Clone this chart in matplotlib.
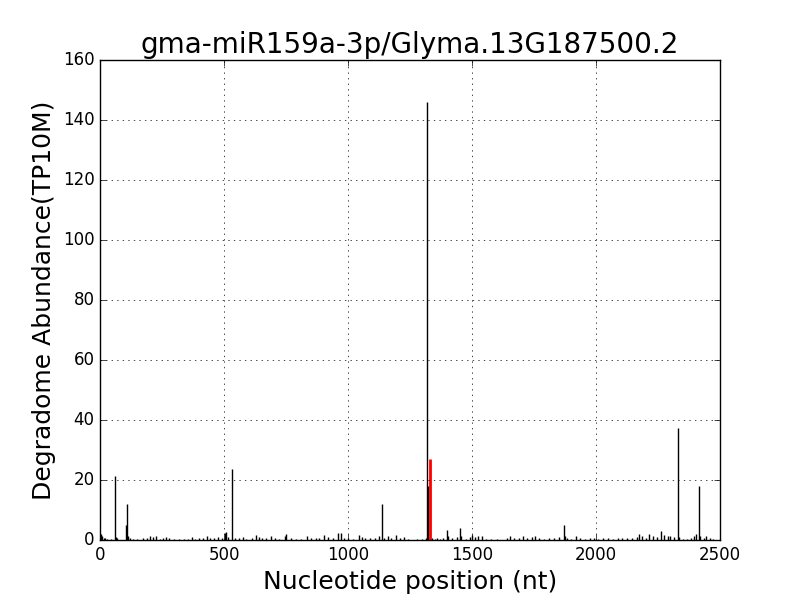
import matplotlib
matplotlib.use('Agg')
import matplotlib.pyplot as plt

plt.style.use('classic')
plt.rcParams['figure.facecolor'] = 'white'
plt.rcParams['savefig.facecolor'] = 'white'

title = 'gma-miR159a-3p/Glyma.13G187500.2'

# degradome tags (position, abundance)
positions = [3, 8, 15, 22, 30, 45, 60, 63, 70, 106, 109, 112, 120, 135, 150, 175, 190, 200, 212, 225,
             240, 255, 265, 280, 300, 320, 340, 355, 370, 385, 400, 415, 430, 445, 460, 475, 490, 505,
             510, 515, 533, 545, 560, 575, 590, 612, 630, 640, 655, 670, 690, 705, 720, 745, 752, 770,
             790, 810, 835, 850, 870, 885, 905, 920, 940, 960, 970, 985, 1000, 1020, 1045, 1055, 1070,
             1090, 1110, 1125, 1137, 1145, 1160, 1175, 1195, 1210, 1225, 1240, 1280, 1300, 1315, 1319,
             1321, 1340, 1350, 1360, 1370, 1385, 1398, 1402, 1420, 1440, 1452, 1455, 1475, 1490, 1500,
             1512, 1525, 1540, 1555, 1575, 1600, 1640, 1655, 1670, 1690, 1705, 1720, 1740, 1755, 1770,
             1790, 1810, 1830, 1850, 1870, 1875, 1885, 1900, 1920, 1935, 1955, 1975, 1990, 2010, 2030,
             2050, 2070, 2090, 2105, 2125, 2145, 2165, 2175, 2185, 2200, 2215, 2230, 2245, 2262, 2275,
             2290, 2300, 2315, 2331, 2335, 2350, 2365, 2385, 2395, 2405, 2415, 2420, 2435, 2445, 2460, 2470]
abundance = [2.0, 1.2, 0.8, 0.7, 0.5, 0.4, 21.5, 1.0, 0.6, 5.0, 12.0, 1.5, 0.6, 0.4, 0.5, 0.8, 0.6, 1.2,
             1.0, 1.2, 0.5, 0.8, 1.0, 0.6, 0.4, 0.5, 0.4, 0.5, 1.0, 0.5, 0.6, 0.7, 1.2, 0.8, 0.7, 0.9, 0.7,
             2.2, 2.8, 1.0, 23.7, 0.8, 0.6, 1.0, 0.5, 0.8, 1.8, 1.0, 0.8, 0.7, 1.5, 0.8, 0.5, 1.2, 2.0,
             0.6, 0.5, 0.4, 1.5, 0.8, 0.6, 0.8, 1.8, 1.0, 0.8, 2.5, 2.2, 0.6, 0.8, 0.5, 1.8, 1.0, 0.7, 0.6,
             0.8, 1.5, 12.0, 0.8, 1.3, 0.8, 1.7, 0.8, 1.0, 0.5, 0.4, 0.5, 0.8, 146.0, 18.0, 0.6, 0.5, 0.6,
             0.5, 0.7, 3.3, 1.5, 0.8, 1.0, 4.0, 1.2, 0.5, 1.0, 1.8, 1.0, 1.2, 1.2, 0.5, 0.3, 0.3, 0.8, 1.2,
             0.6, 0.8, 1.2, 0.6, 1.0, 1.5, 0.6, 0.5, 0.7, 0.8, 1.0, 5.0, 1.5, 0.8, 0.5, 1.5, 0.8, 0.5, 0.6,
             0.8, 0.5, 0.6, 0.7, 0.5, 0.8, 0.6, 0.8, 0.7, 1.0, 2.0, 1.2, 0.8, 2.0, 1.5, 1.0, 3.0, 1.8, 1.5,
             1.2, 1.0, 37.5, 1.0, 0.5, 0.5, 0.8, 1.3, 2.0, 18.0, 1.5, 0.8, 1.5, 0.8, 0.5]

# cleavage site
site_pos = [1331]
site_val = [27.0]

fig = plt.figure(figsize=(8, 6), dpi=100)
ax = fig.add_subplot(111)
ax.vlines(positions, 0, abundance, colors='k', linewidth=1)
ax.vlines(site_pos, 0, site_val, colors='r', linewidth=2)

ax.set_xlim(0, 2500)
ax.set_ylim(0, 160)
ax.grid(True)
ax.set_title(title, fontsize=20)
ax.set_xlabel('Nucleotide position (nt)', fontsize=18)
ax.set_ylabel('Degradome Abundance(TP10M)', fontsize=18)

fig.savefig('out.png', dpi=100)
